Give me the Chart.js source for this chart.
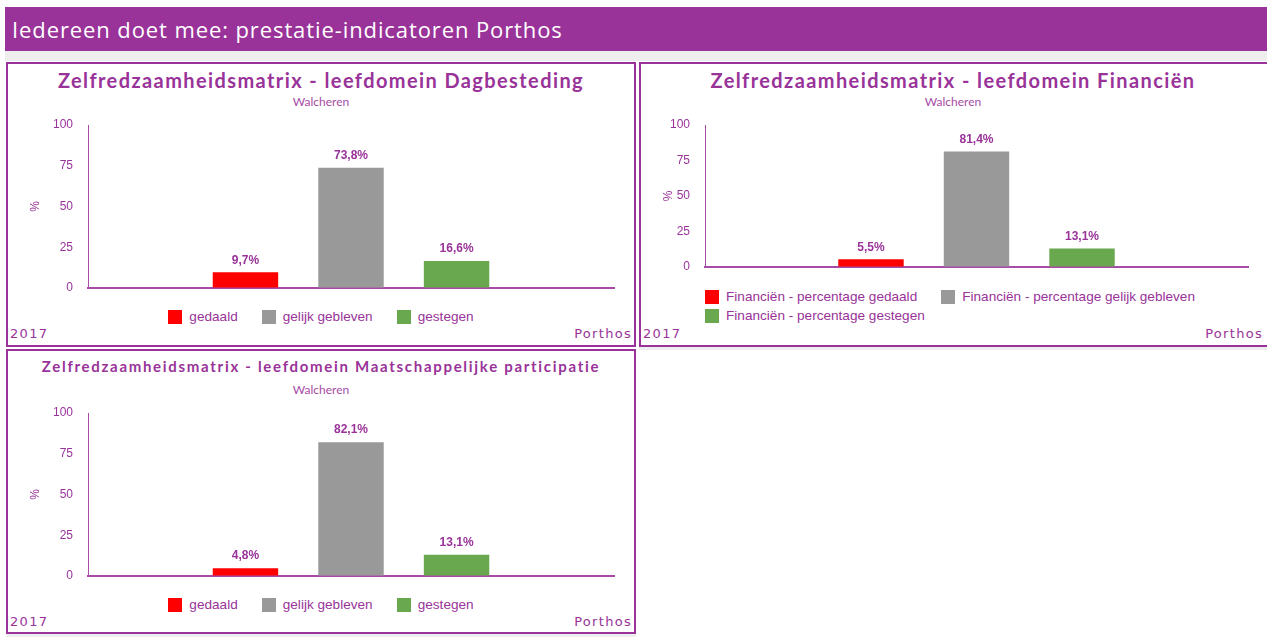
<!DOCTYPE html>
<html>
<head>
<meta charset="utf-8">
<script src="https://cdn.jsdelivr.net/npm/chart.js@4.4.1/dist/chart.umd.min.js"></script>
<style>
  body { margin: 0; width: 1267px; height: 637px; position: relative; background: #fff; overflow: hidden; font-family: 'Liberation Sans', Arial, sans-serif; }
  .abs { position: absolute; }
  .header { left: 5px; top: 7px; width: 1262px; height: 44px; background: #993399; color: #fff;
    font-family: 'Open Sans', sans-serif; font-size: 22px; letter-spacing: 0.9px; line-height: 44px; padding-left: 7px; box-sizing: border-box; }
  .strip { background: #eeeeee; }
  .panel { border: 2px solid #993399; box-sizing: border-box; }
  .title { color: #993399; font-family: Lato, sans-serif; font-weight: bold; text-align: center; white-space: nowrap; }
  .sub { color: #a64ca6; font-family: Lato, sans-serif; font-size: 12px; text-align: center; }
  .foot { color: #993399; font-family: 'DejaVu Sans', Verdana, sans-serif; font-size: 13px; letter-spacing: 1.3px; line-height: 16px; }
  .legend { display: flex; flex-wrap: wrap; column-gap: 24px; row-gap: 4px; color: #993399; font-size: 13.6px; line-height: 15px; }
  .legend .item { display: flex; align-items: center; white-space: nowrap; }
  .legend .box { width: 14px; height: 14px; margin-right: 7px; }
</style>
</head>
<body>
<div class="abs header">Iedereen doet mee: prestatie-indicatoren Porthos</div>
<div class="abs strip" style="left:5px;top:51px;width:1262px;height:10px"></div>
<div class="abs strip" style="left:639px;top:347px;width:628px;height:3px"></div>
<div class="abs strip" style="left:6px;top:634px;width:630px;height:3px"></div>

<div class="abs panel" style="left:6px;top:62px;width:630px;height:285px"></div>
<div class="abs panel" style="left:639px;top:62px;width:630px;height:285px"></div>
<div class="abs panel" style="left:6px;top:349px;width:630px;height:285px"></div>

<div class="abs title" style="left:6px;top:68px;width:630px;font-size:20px;letter-spacing:1.4px">Zelfredzaamheidsmatrix - leefdomein Dagbesteding</div>
<div class="abs sub" style="left:6px;top:94px;width:630px">Walcheren</div>
<div class="abs title" style="left:639px;top:68px;width:628px;font-size:20px;letter-spacing:1.4px">Zelfredzaamheidsmatrix - leefdomein Financiën</div>
<div class="abs sub" style="left:639px;top:94px;width:628px">Walcheren</div>
<div class="abs title" style="left:6px;top:357px;width:630px;font-size:15px;letter-spacing:1.7px">Zelfredzaamheidsmatrix - leefdomein Maatschappelijke participatie</div>
<div class="abs sub" style="left:6px;top:382px;width:630px">Walcheren</div>

<canvas id="c1" class="abs" style="left:8px;top:109px" width="626" height="195"></canvas>
<canvas id="c2" class="abs" style="left:641px;top:109px" width="624" height="174"></canvas>
<canvas id="c3" class="abs" style="left:8px;top:397px" width="626" height="195"></canvas>

<div id="l1" class="abs legend" style="left:8px;top:309px;width:626px;justify-content:center"></div>
<div id="l2" class="abs legend" style="left:705px;top:289px;width:540px"></div>
<div id="l3" class="abs legend" style="left:8px;top:597px;width:626px;justify-content:center"></div>

<div class="abs foot" style="left:10px;top:326px">2017</div>
<div class="abs foot" style="left:562px;top:326px;width:70px;text-align:right">Porthos</div>
<div class="abs foot" style="left:643px;top:326px">2017</div>
<div class="abs foot" style="left:1193px;top:326px;width:70px;text-align:right">Porthos</div>
<div class="abs foot" style="left:10px;top:614px">2017</div>
<div class="abs foot" style="left:562px;top:614px;width:70px;text-align:right">Porthos</div>

<script>
// waarden per leefdomein (Walcheren, 2017)
var jaren = ['2017'];
var reeksen = ['gedaald', 'gelijk gebleven', 'gestegen'];
var reeksenFinancien = ['Financiën - percentage gedaald', 'Financiën - percentage gelijk gebleven', 'Financiën - percentage gestegen'];
var dagbesteding = [9.7, 73.8, 16.6];
var financien = [5.5, 81.4, 13.1];
var participatie = [4.8, 82.1, 13.1];
var yTicks = [0, 25, 50, 75, 100];
var kleuren = ['#ff0000', '#999999', '#6aa84f'];
var paars = '#993399';

// percentage boven elke staaf
var waardeLabels = {
  id: 'waardeLabels',
  afterDatasetsDraw: function(chart) {
    var ctx = chart.ctx;
    ctx.save();
    ctx.fillStyle = paars;
    ctx.font = 'bold 12px "Liberation Sans", Arial, sans-serif';
    ctx.textAlign = 'center';
    ctx.textBaseline = 'middle';
    chart.data.datasets.forEach(function(ds, i) {
      chart.getDatasetMeta(i).data.forEach(function(bar, j) {
        var txt = ds.data[j].toFixed(1).replace('.', ',') + '%';
        ctx.fillText(txt, bar.x, bar.y - 12);
      });
    });
    ctx.restore();
  }
};

function maakGrafiek(canvasId, legendId, waarden, namen, links, padRechts, catPct) {
  var datasets = waarden.map(function(v, i) {
    return { label: namen[i], data: [v], backgroundColor: kleuren[i], barPercentage: 0.62, categoryPercentage: catPct };
  });

  var config = {
    type: 'bar',
    data: { labels: jaren, datasets: datasets },
    options: {
      responsive: false,
      animation: false,
      layout: { padding: { left: 0, right: padRechts, top: 16, bottom: 16 } },
      plugins: { legend: { display: false }, tooltip: { enabled: false } },
      scales: {
        x: {
          grid: { display: false, drawTicks: false },
          ticks: { display: false },
          border: { color: '#a64ca6', width: 2 },
          afterFit: function(s) { s.height = 0; }
        },
        y: {
          min: 0,
          max: 100,
          afterBuildTicks: function(s) { s.ticks = yTicks.map(function(v) { return { value: v }; }); },
          ticks: { color: paars, padding: 8, font: { family: '"Liberation Sans", Arial, sans-serif', size: 12 } },
          grid: { display: true, drawOnChartArea: false, drawTicks: true, tickLength: 7, color: 'transparent' },
          border: { color: '#a64ca6', width: 1 },
          title: { display: true, text: '%', color: paars, padding: { top: 20, bottom: 0 },
            font: { family: '"Liberation Sans", Arial, sans-serif', size: 12 } },
          afterFit: function(s) { s.width = links; }
        }
      }
    },
    plugins: [waardeLabels]
  };

  var chart = new Chart(document.getElementById(canvasId).getContext('2d'), config);

  // legenda in html, opgebouwd uit de datasets
  var legend = document.getElementById(legendId);
  chart.data.datasets.forEach(function(ds) {
    var item = document.createElement('div');
    item.className = 'item';
    var box = document.createElement('span');
    box.className = 'box';
    box.style.background = ds.backgroundColor;
    var txt = document.createElement('span');
    txt.textContent = ds.label;
    item.appendChild(box);
    item.appendChild(txt);
    legend.appendChild(item);
  });
  return chart;
}

maakGrafiek('c1', 'l1', dagbesteding, reeksen, 80, 20, 0.602);
maakGrafiek('c2', 'l2', financien, reeksenFinancien, 64, 17, 0.583);
maakGrafiek('c3', 'l3', participatie, reeksen, 80, 20, 0.602);
</script>
</body>
</html>
